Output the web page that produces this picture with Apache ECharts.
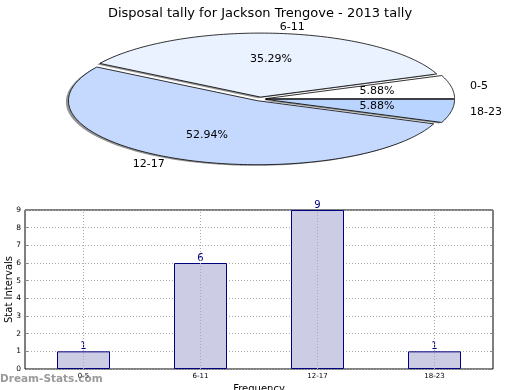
<!DOCTYPE html>
<html>
<head>
<meta charset="utf-8">
<script src="https://cdn.jsdelivr.net/npm/echarts@6/dist/echarts.min.js"></script>
<style>html,body{margin:0;padding:0;background:#fff}#c{width:520px;height:390px}</style>
</head>
<body>
<div id="c"></div>
<script>
const titleText = 'Disposal tally for Jackson Trengove - 2013 tally';
const categories = ['0-5', '6-11', '12-17', '18-23'];
const counts = [1, 6, 9, 1];
const sliceColors = ['#ffffff', '#eaf1ff', '#c5d9ff', '#b9d5ff'];
const yTicks = [0, 1, 2, 3, 4, 5, 6, 7, 8, 9];

const total = counts.reduce((a, b) => a + b, 0);
const cum = [];
counts.reduce((acc, v, i) => { cum[i] = acc; return acc + v; }, 0);

const PIE = { cx: 260, cy: 99, rx: 189, ry: 64, explode: 0.03 };
const FONT = 'DejaVu Sans';

function sliceGeom(idx) {
  const s = cum[idx] / total * Math.PI * 2;
  const e = (cum[idx] + counts[idx]) / total * Math.PI * 2;
  const m = (s + e) / 2;
  const ox = PIE.cx + PIE.explode * PIE.rx * Math.cos(m);
  const oy = PIE.cy - PIE.explode * PIE.ry * Math.sin(m);
  const pts = [[ox, oy]];
  const n = Math.max(8, Math.ceil((e - s) / 0.02));
  for (let k = 0; k <= n; k++) {
    const t = s + (e - s) * k / n;
    pts.push([ox + PIE.rx * Math.cos(t), oy - PIE.ry * Math.sin(t)]);
  }
  return { s, e, m, ox, oy, pts };
}

function renderShadow(params, api) {
  const g = sliceGeom(params.dataIndex);
  return {
    type: 'polygon',
    shape: { points: g.pts.map(p => [p[0] - 2.6, p[1] + 1.1]) },
    style: { fill: 'rgba(0,0,0,0.42)', stroke: 'none' },
    silent: true
  };
}

function renderSlice(params, api) {
  const idx = params.dataIndex;
  const g = sliceGeom(idx);
  const c = Math.cos(g.m), sn = Math.sin(g.m);
  const lx = g.ox + 1.1 * PIE.rx * c;
  const ly = g.oy - 1.1 * PIE.ry * sn;
  const px = g.ox + 0.6 * PIE.rx * c;
  const py = g.oy - 0.6 * PIE.ry * sn;
  const pct = (api.value(0) / total * 100).toFixed(2) + '%';
  return {
    type: 'group',
    children: [
      {
        type: 'polygon',
        shape: { points: g.pts },
        style: { fill: sliceColors[idx], stroke: '#000', lineWidth: 0.8 }
      },
      {
        type: 'text',
        x: lx, y: ly,
        style: { text: categories[idx], fill: '#000', font: '11px "' + FONT + '"',
                 align: c >= 0 ? 'left' : 'right', verticalAlign: 'middle' },
        z2: 10
      },
      {
        type: 'text',
        x: px, y: py,
        style: { text: pct, fill: '#000', font: '11px "' + FONT + '"',
                 align: 'center', verticalAlign: 'middle' },
        z2: 10
      }
    ]
  };
}

const chart = echarts.init(document.getElementById('c'), null, { renderer: 'canvas' });
chart.setOption({
  animation: false,
  backgroundColor: '#fff',
  textStyle: { fontFamily: FONT },
  title: {
    text: titleText, left: 'center', top: 2,
    textStyle: { fontSize: 13, fontWeight: 'normal', color: '#000', fontFamily: FONT }
  },
  graphic: [{
    type: 'text', left: 0, top: 374,
    style: { text: 'Dream-Stats.com', fill: 'rgba(120,120,120,0.75)',
             font: 'bold 10.5px "' + FONT + '"' },
    z: 100
  }],
  grid: {
    left: 25, right: 27, top: 210, bottom: 21,
    outerBoundsMode: 'none', containLabel: false,
    show: true, borderColor: '#000', borderWidth: 1, backgroundColor: 'transparent'
  },
  xAxis: {
    type: 'category', data: categories,
    axisLine: { show: false },
    axisTick: { show: true, inside: true, alignWithLabel: true, length: 3, lineStyle: { color: '#888' } },
    axisLabel: { fontSize: 7, color: '#000', margin: 4, fontFamily: FONT },
    splitLine: { show: false },
    name: 'Frequency', nameLocation: 'middle', nameGap: 15, nameMoveOverlap: false,
    nameTextStyle: { fontSize: 10, color: '#000', fontFamily: FONT }
  },
  yAxis: [{
    type: 'value', min: yTicks[0], max: yTicks[yTicks.length - 1], interval: 1,
    axisLine: { show: false },
    axisTick: { show: true, inside: true, length: 3, lineStyle: { color: '#888' } },
    axisLabel: { fontSize: 7.5, color: '#000', margin: 4, fontFamily: FONT },
    splitLine: { show: true, lineStyle: { type: [1, 2], color: '#aaa', width: 1 } },
    name: 'Stat Intervals', nameLocation: 'middle', nameGap: 11, nameMoveOverlap: false,
    nameTextStyle: { fontSize: 10, color: '#000', fontFamily: FONT }
  }, {
    type: 'value', position: 'right', min: yTicks[0], max: yTicks[yTicks.length - 1], interval: 1,
    axisLine: { show: false },
    axisTick: { show: true, inside: true, length: 3, lineStyle: { color: '#888' } },
    axisLabel: { show: false },
    splitLine: { show: false }
  }],
  series: [
    {
      type: 'bar', data: counts, barWidth: 53, xAxisIndex: 0, yAxisIndex: 0,
      itemStyle: { color: '#ccccE5', borderColor: '#000080', borderWidth: 1 },
      label: { show: true, position: 'top', distance: 0, color: '#000080', fontSize: 10, fontFamily: FONT },
      markLine: {
        silent: true, symbol: 'none', label: { show: false },
        lineStyle: { type: [1, 2], color: '#aaa', width: 1 },
        data: categories.map(c => ({ xAxis: c }))
      },
      z: 2
    },
    {
      type: 'custom', coordinateSystem: 'none', renderItem: renderShadow,
      data: counts.map((v, i) => [v, i]), z: 1, silent: true
    },
    {
      type: 'custom', coordinateSystem: 'none', renderItem: renderSlice,
      data: counts.map((v, i) => [v, i]), z: 3
    }
  ]
});
</script>
</body>
</html>
